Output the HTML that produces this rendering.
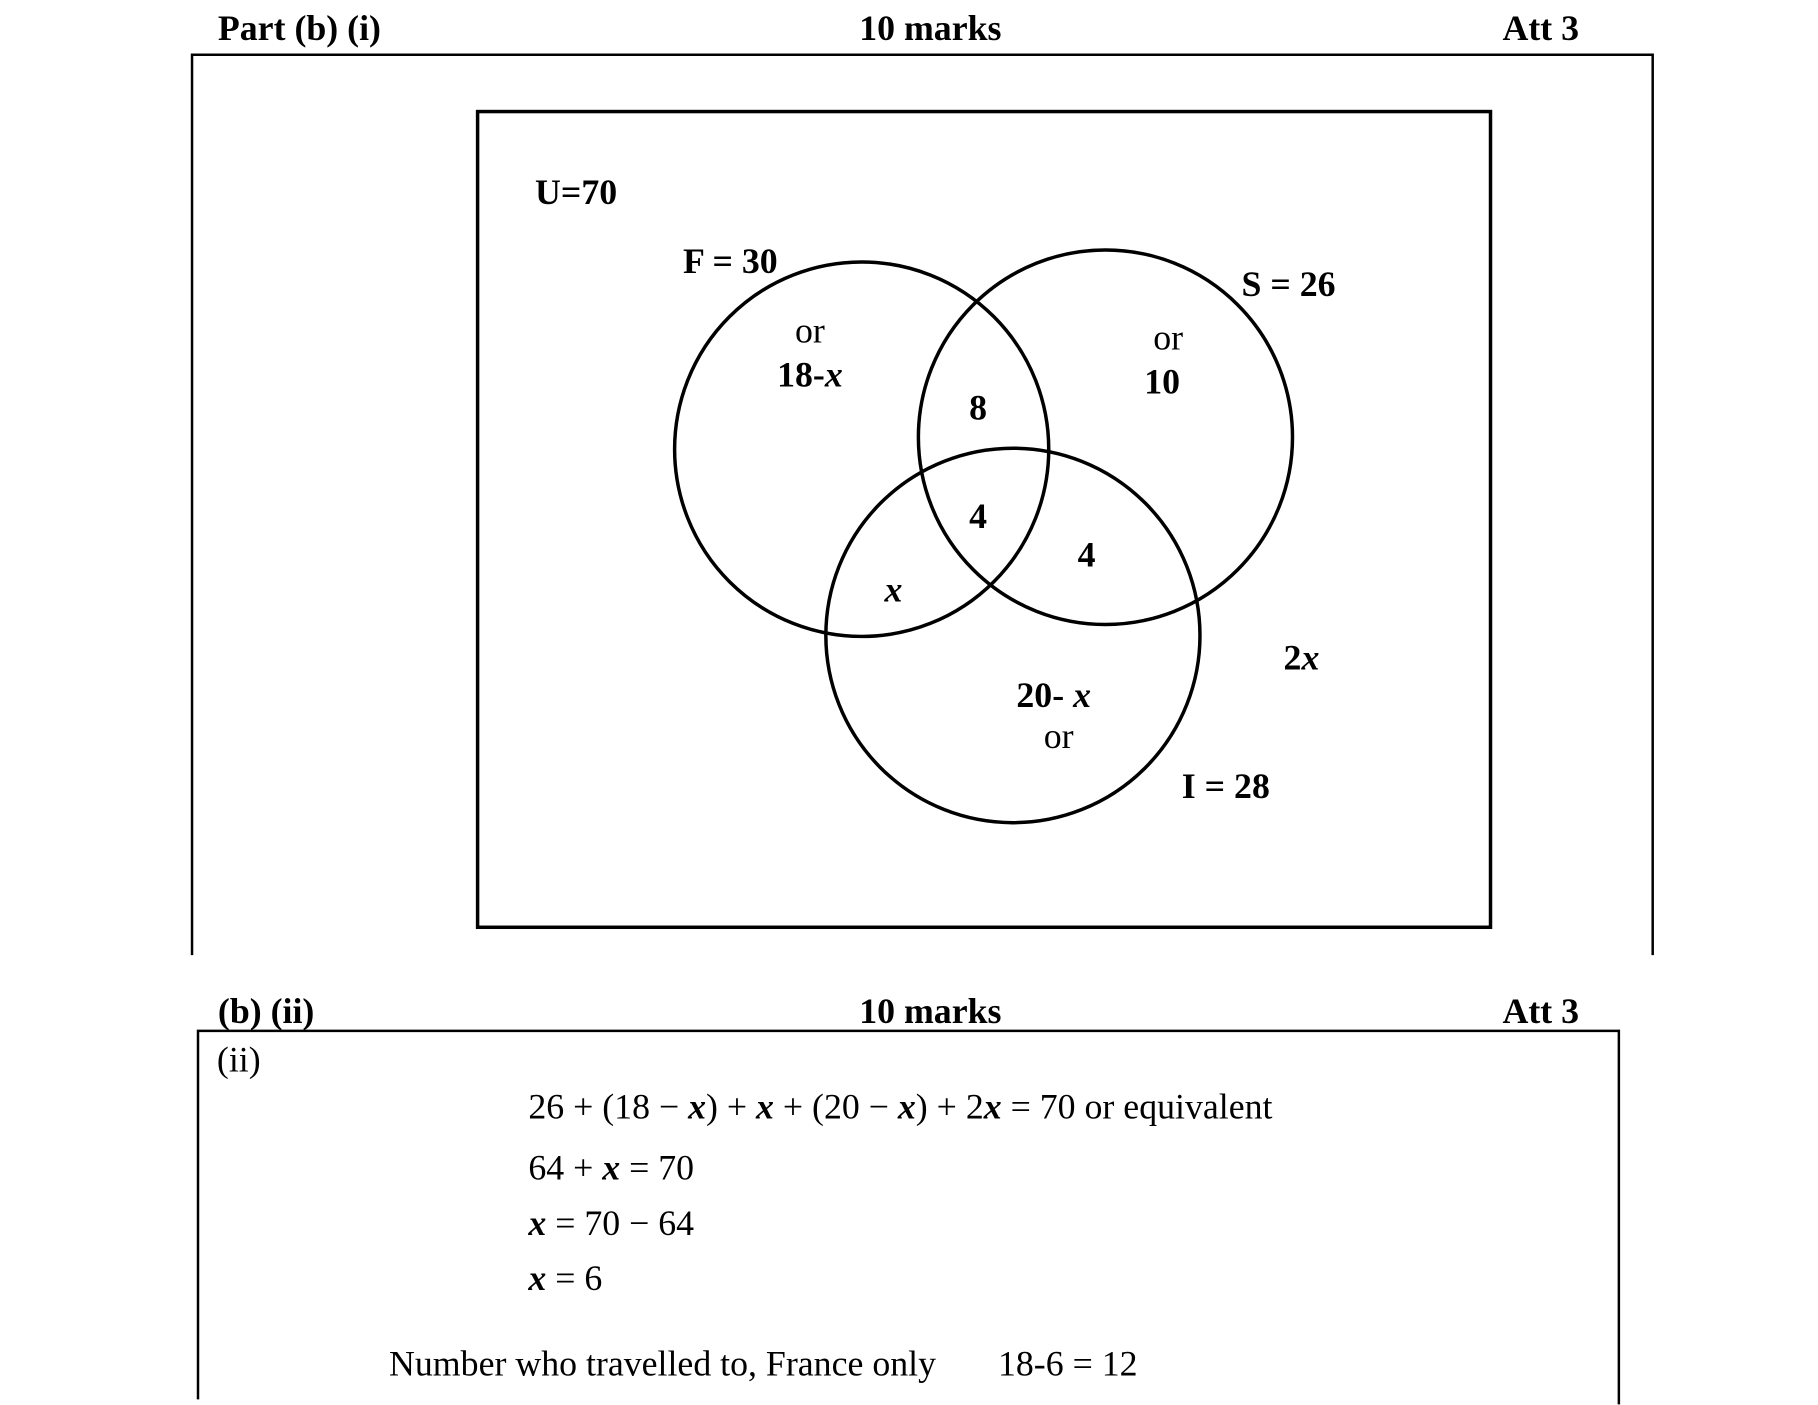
<!DOCTYPE html>
<html><head><meta charset="utf-8"><style>
html,body{margin:0;padding:0;background:#fff}
svg{display:block}
text{font-family:"Liberation Serif",serif;fill:#000}
.b{font-weight:bold}
</style></head><body>
<svg width="1818" height="1405" viewBox="0 0 1818 1405" xmlns="http://www.w3.org/2000/svg">
<g transform="scale(0.995,0.996)">
<g font-size="36">
<text x="219" y="40" class="b">Part (b) (i)</text>
<text x="935" y="40" class="b" text-anchor="middle">10 marks</text>
<text x="1587" y="40" class="b" text-anchor="end">Att 3</text>
</g>
<polyline points="193,959 193,55 1661,55 1661,959" fill="none" stroke="#000" stroke-width="2.5"/>
<rect x="480" y="112" width="1018" height="819" fill="none" stroke="#000" stroke-width="3.5"/>
<g fill="none" stroke="#000" stroke-width="3.5">
<circle cx="866" cy="451" r="188"/>
<circle cx="1111" cy="439" r="188"/>
<circle cx="1018" cy="638" r="188"/>
</g>
<g font-size="36" text-anchor="middle">
<text x="579" y="205" class="b">U=70</text>
<text x="734" y="274" class="b">F = 30</text>
<text x="1295" y="297" class="b">S = 26</text>
<text x="814" y="344">or</text>
<text x="814" y="388" class="b">18-<tspan font-style="italic">x</tspan></text>
<text x="1174" y="351">or</text>
<text x="1168" y="395" class="b">10</text>
<text x="983" y="421" class="b">8</text>
<text x="983" y="530" class="b">4</text>
<text x="1092" y="569" class="b">4</text>
<text x="898" y="604" class="b" font-style="italic">x</text>
<text x="1308" y="672" class="b">2<tspan font-style="italic">x</tspan></text>
<text x="1059" y="710" class="b">20- <tspan font-style="italic">x</tspan></text>
<text x="1064" y="751">or</text>
<text x="1232" y="801" class="b">I = 28</text>
</g>
<g font-size="36">
<text x="219" y="1027" class="b">(b) (ii)</text>
<text x="935" y="1027" class="b" text-anchor="middle">10 marks</text>
<text x="1587" y="1027" class="b" text-anchor="end">Att 3</text>
</g>
<polyline points="199,1405 199,1035 1627,1035 1627,1410" fill="none" stroke="#000" stroke-width="2.5"/>
<g font-size="36">
<text x="218" y="1076">(ii)</text>
<text x="531" y="1123">26 + (18 − <tspan class="b" font-style="italic">x</tspan>) + <tspan class="b" font-style="italic">x</tspan> + (20 − <tspan class="b" font-style="italic">x</tspan>) + 2<tspan class="b" font-style="italic">x</tspan> = 70  or equivalent</text>
<text x="531" y="1184">64 + <tspan class="b" font-style="italic">x</tspan> = 70</text>
<text x="531" y="1240"><tspan class="b" font-style="italic">x</tspan> = 70 − 64</text>
<text x="531" y="1295"><tspan class="b" font-style="italic">x</tspan> = 6</text>
<text x="391" y="1381">Number who travelled to, France only</text>
<text x="1003" y="1381">18-6 = 12</text>
</g>
</g>
</svg>
</body></html>
